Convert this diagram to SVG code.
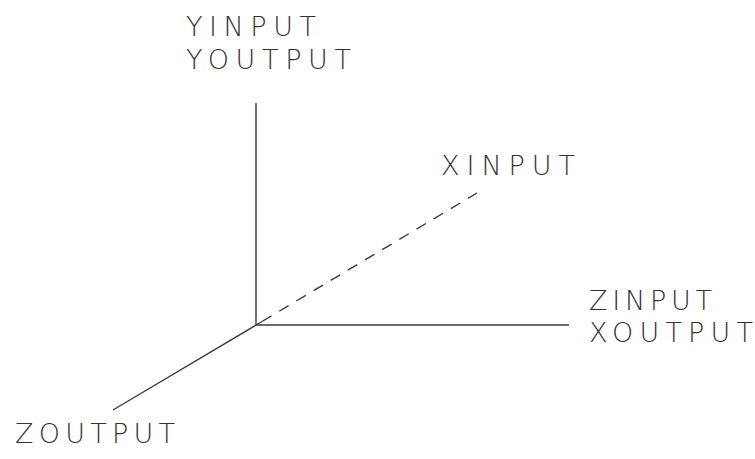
<svg xmlns="http://www.w3.org/2000/svg" width="755" height="459" viewBox="0 0 755 459">
<style>
.ax{stroke:#3a3a3a;stroke-width:1.4;fill:none}
.dash{stroke-dasharray:11 9}
.lbl{font-family:"DejaVu Sans","Liberation Sans",sans-serif;font-weight:200;font-size:27px;fill:#333}
</style>
<rect width="755" height="459" fill="#fff"/>
<g id="connectors">
<line class="ax" x1="256" y1="103" x2="256" y2="325"/>
<line class="ax" x1="256" y1="325" x2="569" y2="325"/>
<line class="ax" x1="262" y1="321.5" x2="113" y2="410"/>
<line class="ax dash" x1="262" y1="321.5" x2="477" y2="193"/>
</g>
<g id="y-label">
<text class="lbl" x="186" y="36" textLength="130" lengthAdjust="spacing">YINPUT</text>
<text class="lbl" x="186" y="69" textLength="165" lengthAdjust="spacing">YOUTPUT</text>
</g>
<g id="x-label">
<text class="lbl" x="441" y="175" textLength="134" lengthAdjust="spacing">XINPUT</text>
</g>
<g id="z-label">
<text class="lbl" x="589" y="310" textLength="123" lengthAdjust="spacing">ZINPUT</text>
<text class="lbl" x="589" y="342" textLength="164" lengthAdjust="spacing">XOUTPUT</text>
</g>
<g id="zout-label">
<text class="lbl" x="15" y="443" textLength="160" lengthAdjust="spacing">ZOUTPUT</text>
</g>
</svg>
